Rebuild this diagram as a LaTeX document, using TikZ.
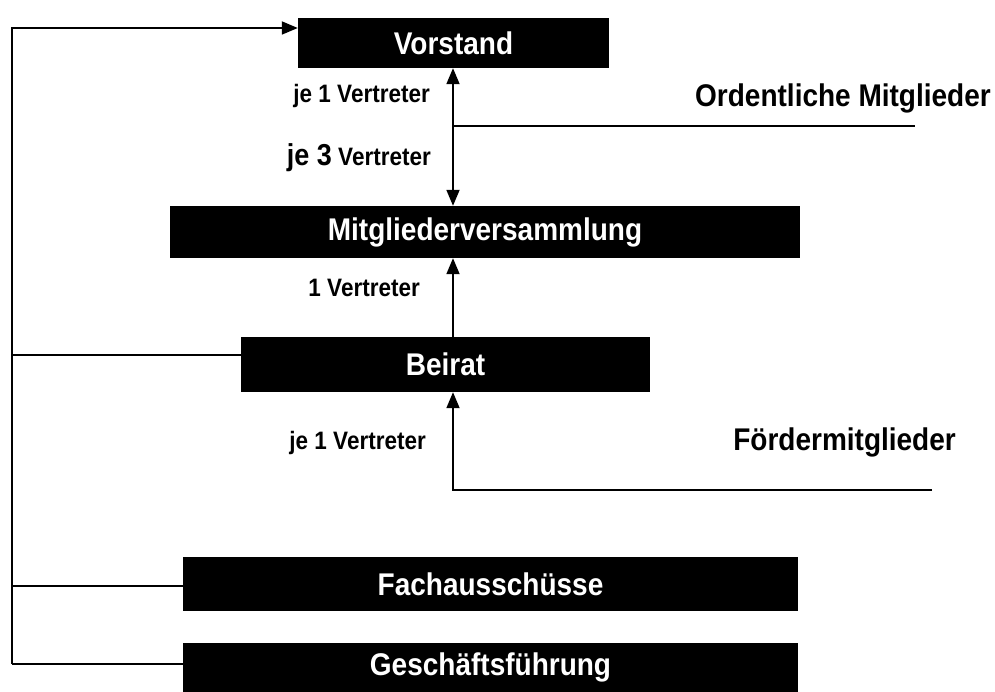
\documentclass[tikz,border=0pt]{standalone}
\usepackage{fontspec}
\setmainfont{Liberation Sans}
\usetikzlibrary{arrows.meta}
\newcommand{\tallt}[1]{\scalebox{1}[1.12]{#1}}
\tikzset{
  box/.style={fill=black, text=white, inner sep=0pt, font=\fontsize{28}{30}\selectfont\bfseries},
  conn/.style={line width=1.8pt, draw=black},
  tip/.style={-{Triangle[length=16pt,width=13pt]}},
  lbl/.style={inner sep=0pt, anchor=east, font=\fontsize{22.5}{25}\selectfont\bfseries},
  side/.style={inner sep=0pt, font=\fontsize{28}{30}\selectfont\bfseries}
}
\begin{document}
\begin{tikzpicture}[x=1pt,y=-1pt]
\useasboundingbox (0,0) rectangle (995,692);
\node[box, minimum width=311pt, minimum height=50pt] (vorstand) at (453.5,43) {\tallt{Vorstand}};
\node[box, minimum width=630pt, minimum height=52pt] (mv) at (485,232) {\tallt{Mitgliederversammlung}};
\node[box, minimum width=409pt, minimum height=55pt] (beirat) at (445.5,364.5) {\tallt{Beirat}};
\node[box, minimum width=615pt, minimum height=54pt] (fach) at (490.5,584) {\tallt{Fachausschüsse}};
\node[box, minimum width=615pt, minimum height=49pt] (gf) at (490.5,667.5) {\tallt{Geschäftsführung}};

\node[lbl] (l1) at (430,96) {\tallt{je 1 Vertreter}};
\node[lbl] (l2) at (431,158) {\tallt{{\fontsize{27}{30}\selectfont je 3} Vertreter}};
\node[lbl] (l3) at (420,288) {\tallt{1 Vertreter}};
\node[lbl] (l4) at (426,443) {\tallt{je 1 Vertreter}};
\node[side, anchor=east] (om) at (991,98) {\tallt{Ordentliche Mitglieder}};
\node[side, anchor=east] (fm) at (956,442) {\tallt{Fördermitglieder}};

\coordinate (ltop) at (12,28);
\coordinate (lb) at (12,355);
\coordinate (lf) at (12,586);
\coordinate (lg) at (12,664);
\coordinate (omend) at (915,126);
\coordinate (fmend) at (932,490);
\coordinate (vx) at (453,0);

\draw[conn, tip] (lg) -- (ltop) -- (ltop -| vorstand.west);
\draw[conn] (lg) -- (lg -| gf.west);
\draw[conn] (lf) -- (lf -| fach.west);
\draw[conn] (lb) -- (lb -| beirat.west);
\draw[conn, {Triangle[length=16pt,width=13pt]}-{Triangle[length=16pt,width=13pt]}] (vx |- vorstand.south) -- (vx |- mv.north);
\draw[conn] (vx |- omend) -- (omend);
\draw[conn, tip] (vx |- beirat.north) -- (vx |- mv.south);
\draw[conn, tip] (fmend) -- (vx |- fmend) -- (vx |- beirat.south);
\end{tikzpicture}
\end{document}
